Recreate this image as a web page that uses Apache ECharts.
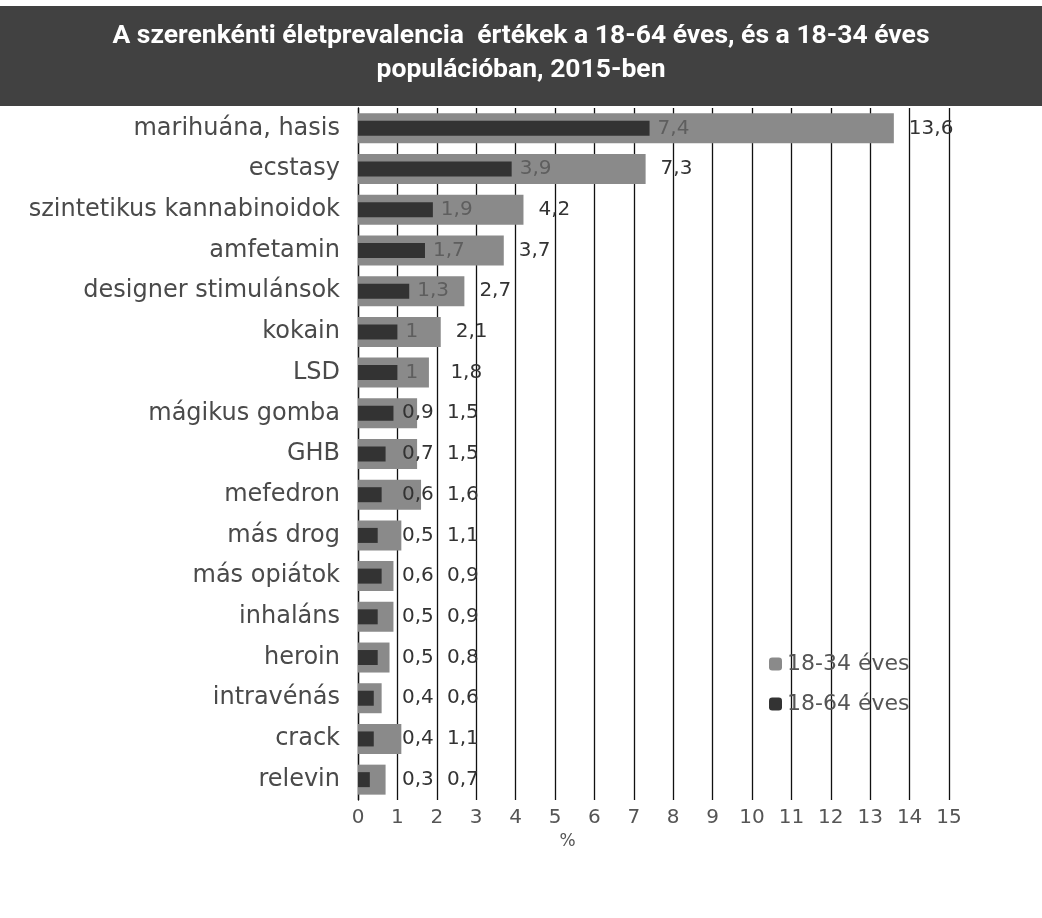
<!DOCTYPE html>
<html>
<head>
<meta charset="utf-8">
<script src="https://cdn.jsdelivr.net/npm/echarts@6/dist/echarts.min.js"></script>
<style>
  html, body { margin: 0; padding: 0; background: #fff; }
  #chart { width: 1042px; height: 918px; }
</style>
</head>
<body>
<div id="chart"></div>
<script>
  // kategóriák (felülről lefelé)
  var categories = ['marihuána, hasis', 'ecstasy', 'szintetikus kannabinoidok', 'amfetamin',
    'designer stimulánsok', 'kokain', 'LSD', 'mágikus gomba', 'GHB', 'mefedron', 'más drog',
    'más opiátok', 'inhaláns', 'heroin', 'intravénás', 'crack', 'relevin']
  var young = [13.6, 7.3, 4.2, 3.7, 2.7, 2.1, 1.8, 1.5, 1.5, 1.6, 1.1, 0.9, 0.9, 0.8, 0.6, 1.1, 0.7]   // 18-34 éves
  var adult = [7.4, 3.9, 1.9, 1.7, 1.3, 1.0, 1.0, 0.9, 0.7, 0.6, 0.5, 0.6, 0.5, 0.5, 0.4, 0.4, 0.3]   // 18-64 éves
  var xTicks = [0, 15, 1]

  var fmt = function (p) { return String(p.value).replace('.', ',') }
  var font = '"DejaVu Sans", sans-serif'

  // a címkék ne takarják egymást (mint az eredeti ábrán, kézzel eltolva)
  var gridLeft = 358, gridRight = 93
  var pxPerUnit = (1042 - gridLeft - gridRight) / (xTicks[1] - xTicks[0])
  var innerData = [], outerData = []
  for (var i = 0; i < categories.length; i++) {
    var innerEnd = adult[i] * pxPerUnit
    var innerStart = Math.max(innerEnd + 8, 44)
    var outerEnd = young[i] * pxPerUnit
    var outerStart = Math.max(outerEnd + 15, innerStart + 45)
    var inside = innerStart + 20 < outerEnd
    innerData.push({
      value: adult[i],
      label: { offset: [innerStart - innerEnd - 8, 0], color: inside ? '#5e5e5e' : '#333' }
    })
    outerData.push({
      value: young[i],
      label: { offset: [outerStart - outerEnd - 15, 0] }
    })
  }

  var myChart = echarts.init(document.getElementById('chart'))
  myChart.setOption({
    backgroundColor: '#fff',
    title: {
      text: 'A szerenkénti életprevalencia  értékek a 18-64 éves, és a 18-34 éves\npopulációban, 2015-ben',
      left: 'center',
      top: 19,
      padding: [0, 0, 0, 20],
      textStyle: {
        color: '#fff',
        fontFamily: 'Roboto',
        fontWeight: 'bold',
        fontSize: 26.5,
        lineHeight: 34
      }
    },
    graphic: [{
      type: 'rect',
      z: -1,
      shape: { x: 0, y: 6, width: 1042, height: 100 },
      style: { fill: '#414141' }
    }],
    legend: {
      orient: 'vertical',
      left: 764,
      top: 648,
      itemWidth: 13,
      itemHeight: 13,
      itemGap: 18,
      textStyle: { fontFamily: font, fontSize: 22, color: '#555' },
      data: ['18-34 éves', '18-64 éves']
    },
    grid: { left: gridLeft, right: gridRight, top: 108, bottom: 118 },
    xAxis: {
      type: 'value',
      min: xTicks[0],
      max: xTicks[1],
      interval: xTicks[2],
      name: '%',
      nameLocation: 'middle',
      nameGap: 30,
      nameTextStyle: { fontFamily: font, fontSize: 17, color: '#555', padding: [0, 172, 0, 0] },
      axisLine: { show: false },
      axisTick: { show: false },
      axisLabel: { fontFamily: font, fontSize: 20, color: '#555', margin: 8 },
      splitLine: { lineStyle: { color: '#111', width: 1.3 } }
    },
    yAxis: [{
      type: 'category',
      inverse: true,
      data: categories,
      axisLine: { lineStyle: { color: '#111', width: 1.3 } },
      axisTick: { show: false },
      axisLabel: { fontFamily: font, fontSize: 24, color: '#4a4a4a', margin: 18 }
    }, {
      type: 'category',
      inverse: true,
      data: categories,
      show: false
    }],
    series: [{
      name: '18-34 éves',
      type: 'bar',
      yAxisIndex: 0,
      barWidth: 30,
      data: outerData,
      itemStyle: { color: '#8a8a8a' },
      label: {
        show: true,
        position: 'right',
        distance: 15,
        formatter: fmt,
        fontFamily: font,
        fontSize: 20,
        color: '#333'
      }
    }, {
      name: '18-64 éves',
      type: 'bar',
      yAxisIndex: 1,
      barWidth: 15,
      data: innerData,
      itemStyle: { color: '#333' },
      label: {
        show: true,
        position: 'right',
        distance: 8,
        formatter: fmt,
        fontFamily: font,
        fontSize: 20
      }
    }]
  })
</script>
</body>
</html>
